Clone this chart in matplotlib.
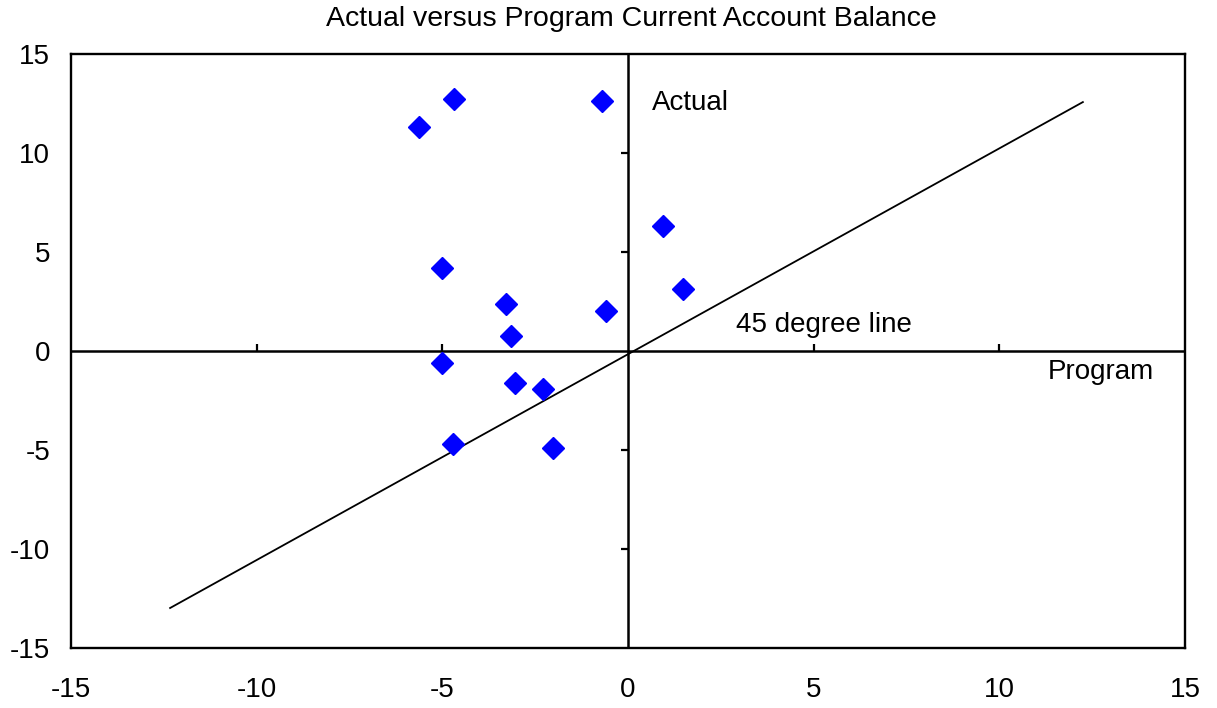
import matplotlib.pyplot as plt

plt.rcParams['font.family'] = ['Liberation Sans', 'DejaVu Sans']
plt.rcParams['axes.unicode_minus'] = False

# program (x) vs actual (y) current account balance
program = [-4.69, -5.63, -0.69, 0.94, -5.0, 1.48, -3.29, -0.59, -3.14,
           -5.0, -3.05, -2.30, -4.70, -2.01]
actual = [12.69, 11.28, 12.59, 6.28, 4.18, 3.10, 2.38, 1.99, 0.73,
          -0.62, -1.62, -1.94, -4.72, -4.93]

line_x = [-12.33, 12.25]
line_y = [-12.98, 12.55]

ticks = [-15, -10, -5, 0, 5, 10, 15]
inner_ticks = [-10, -5, 5, 10]

fig = plt.figure(figsize=(12.17, 7.08), dpi=100)
ax = fig.add_axes([0.0583, 0.0847, 0.9154, 0.8397])

ax.set_xlim(-15, 15)
ax.set_ylim(-15, 15)
ax.set_xticks(ticks)
ax.set_yticks(ticks)
ax.tick_params(axis='both', length=0, labelsize=20)
ax.tick_params(axis='x', pad=21)
ax.tick_params(axis='y', pad=15)
for s in ax.spines.values():
    s.set_linewidth(1.7)

# axes through the origin
ax.axhline(0, color='black', lw=1.8, zorder=2)
ax.axvline(0, color='black', lw=1.8, zorder=2)
ax.plot(inner_ticks, [0] * len(inner_ticks), ls='none', marker=2,
        ms=5, mew=1.6, color='black', clip_on=False)
ax.plot([0] * len(inner_ticks), inner_ticks, ls='none', marker=0,
        ms=5, mew=1.6, color='black', clip_on=False)

ax.plot(line_x, line_y, color='black', lw=1.3, zorder=3)
ax.plot(program, actual, ls='none', marker='D', ms=11, color='#0000ff',
        mec='#0000ff', zorder=4)

ax.text(0.65, 12.5, 'Actual', fontsize=20, va='center', ha='left')
ax.text(2.9, 1.3, '45 degree line', fontsize=20, va='center', ha='left')
ax.text(11.3, -1.05, 'Program', fontsize=20, va='center', ha='left')

fig.suptitle('Actual versus Program Current Account Balance', fontsize=20.5,
             x=0.519, y=0.992, va='top')

fig.savefig('out.png', dpi=100)
